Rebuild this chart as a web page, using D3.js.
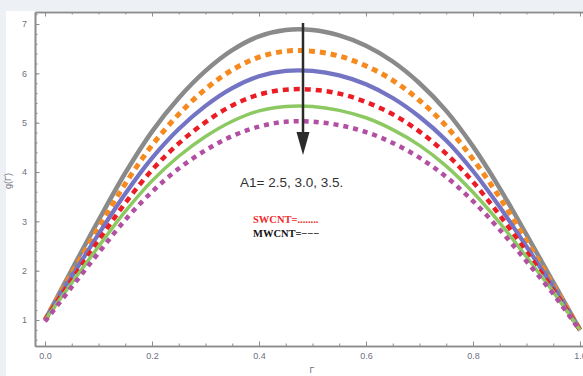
<!DOCTYPE html>
<html>
<head>
<meta charset="utf-8">
<script src="https://cdn.jsdelivr.net/npm/d3@7"></script>
<style>
  body { margin: 0; background: #edf0f4; }
  #canvas { width: 583px; height: 376px; }
</style>
</head>
<body>
<div id="canvas"></div>
<script>
const gamma = [0, 0.05, 0.1, 0.15, 0.2, 0.25, 0.3, 0.35, 0.4, 0.45, 0.5,
               0.55, 0.6, 0.65, 0.7, 0.75, 0.8, 0.85, 0.9, 0.95, 1.0];

// g(Γ) for each curve (top to bottom)
const grayVals   = [1.0, 2.02, 3.02, 3.98, 4.82, 5.50, 6.05, 6.47, 6.75, 6.88, 6.88,
                    6.77, 6.56, 6.24, 5.80, 5.24, 4.52, 3.67, 2.73, 1.77, 0.8];
const orangeVals = [1.0, 1.95, 2.87, 3.76, 4.54, 5.17, 5.68, 6.07, 6.33, 6.45, 6.45,
                    6.35, 6.15, 5.86, 5.45, 4.93, 4.26, 3.48, 2.60, 1.71, 0.8];
const blueVals   = [1.0, 1.88, 2.74, 3.56, 4.28, 4.87, 5.34, 5.70, 5.94, 6.05, 6.05,
                    5.96, 5.78, 5.50, 5.12, 4.64, 4.02, 3.29, 2.49, 1.66, 0.8];
const redVals    = [1.0, 1.81, 2.61, 3.37, 4.04, 4.58, 5.01, 5.35, 5.57, 5.67, 5.67,
                    5.59, 5.42, 5.17, 4.82, 4.37, 3.80, 3.12, 2.38, 1.61, 0.8];
const greenVals  = [1.0, 1.75, 2.49, 3.20, 3.82, 4.32, 4.72, 5.03, 5.24, 5.33, 5.33,
                    5.25, 5.10, 4.86, 4.54, 4.12, 3.59, 2.97, 2.28, 1.57, 0.8];
const purpleVals = [0.97, 1.67, 2.36, 3.03, 3.60, 4.07, 4.44, 4.73, 4.92, 5.02, 5.02,
                    4.95, 4.81, 4.59, 4.29, 3.90, 3.41, 2.83, 2.19, 1.53, 0.78];

const xTicks = [0, 0.2, 0.4, 0.6, 0.8, 1.0];
const yTicks = [1, 2, 3, 4, 5, 6, 7];

const width = 583;
const height = 376;

const series = [
  { vals: grayVals,   color: "#8a8a8a", w: 4.5, dash: null },
  { vals: orangeVals, color: "#f68a1f", w: 5,   dash: "6,5" },
  { vals: blueVals,   color: "#7474c4", w: 4.2, dash: null },
  { vals: redVals,    color: "#ec1c24", w: 4.5, dash: "6,5" },
  { vals: greenVals,  color: "#8dc963", w: 3.5, dash: null },
  { vals: purpleVals, color: "#b34fa3", w: 4.5, dash: "5,5" },
];

const xScale = d3.scaleLinear([-0.0187, 1.0187], [35, 590]);
const yScale = d3.scaleLinear([0.473, 7.244], [346, 12]);

const svg = d3
  .select("#canvas")
  .append("svg")
  .attr("width", width)
  .attr("height", height)
  .style("font-family", "'Liberation Sans', Arial, sans-serif");

// white panel
svg.append("rect")
  .attr("x", 6).attr("y", 11)
  .attr("width", width).attr("height", height)
  .attr("fill", "#fff");

const axisColor = "#8c8c8c";
const labelColor = "#6e7080";

function styleAxis(g) {
  g.select(".domain").attr("stroke", axisColor).attr("stroke-width", 1.6);
  g.selectAll(".tick line").attr("stroke", axisColor).attr("stroke-width", 1);
  g.selectAll(".tick text").attr("fill", labelColor).style("font-size", "9px");
}

const minorX = d3.range(0, 1.0001, 0.05);
const minorY = d3.range(0.6, 7.21, 0.2);

// bottom axis
svg.append("g").attr("transform", "translate(0,346)")
  .call(d3.axisBottom(xScale).tickValues(minorX).tickSize(-2.5).tickFormat("").tickSizeOuter(0))
  .call(styleAxis);
svg.append("g").attr("transform", "translate(0,346)")
  .call(d3.axisBottom(xScale).tickValues(xTicks).tickSize(-4.5).tickPadding(7)
    .tickFormat(d3.format(".1f")).tickSizeOuter(0))
  .call(styleAxis);

// top axis
svg.append("g").attr("transform", "translate(0,12)")
  .call(d3.axisTop(xScale).tickValues(minorX).tickSize(-2.5).tickFormat("").tickSizeOuter(0))
  .call(styleAxis);
svg.append("g").attr("transform", "translate(0,12)")
  .call(d3.axisTop(xScale).tickValues(xTicks).tickSize(-4.5).tickFormat("").tickSizeOuter(0))
  .call(styleAxis);

// left axis
svg.append("g").attr("transform", "translate(35,0)")
  .call(d3.axisLeft(yScale).tickValues(minorY).tickSize(-2.5).tickFormat("").tickSizeOuter(0))
  .call(styleAxis);
svg.append("g").attr("transform", "translate(35,0)")
  .call(d3.axisLeft(yScale).tickValues(yTicks).tickSize(-4.5).tickPadding(8)
    .tickFormat(d3.format("d")).tickSizeOuter(0))
  .call(styleAxis);

// axis titles
svg.append("text")
  .attr("x", 312).attr("y", 373)
  .attr("text-anchor", "middle")
  .attr("fill", labelColor)
  .style("font-size", "9px")
  .text("Γ");
svg.append("text")
  .attr("transform", "translate(11,181) rotate(-90)")
  .attr("text-anchor", "middle")
  .attr("fill", labelColor)
  .style("font-size", "9px")
  .text("g(Γ)");

// curves
const line = d3.line()
  .x((d, i) => xScale(gamma[i]))
  .y((d) => yScale(d))
  .curve(d3.curveCatmullRom);

for (const s of series) {
  svg.append("path")
    .attr("fill", "none")
    .attr("stroke", s.color)
    .attr("stroke-width", s.w)
    .attr("stroke-dasharray", s.dash)
    .attr("d", line(s.vals));
}

// arrow
svg.append("line")
  .attr("x1", 303).attr("y1", 23)
  .attr("x2", 303).attr("y2", 140)
  .attr("stroke", "#2b2b2b")
  .attr("stroke-width", 2.5);
svg.append("path")
  .attr("d", "M296.5,132 L309.5,132 L303,155 Z")
  .attr("fill", "#2b2b2b");

// annotations
svg.append("text")
  .attr("x", 240).attr("y", 187)
  .attr("fill", "#333")
  .style("font-size", "13.5px")
  .text("A1= 2.5, 3.0, 3.5.");
svg.append("text")
  .attr("x", 253).attr("y", 223)
  .attr("fill", "#ee2a2a")
  .style("font-family", "'Liberation Serif', 'Times New Roman', serif")
  .style("font-weight", "bold")
  .style("font-size", "10.5px")
  .text("SWCNT=........");
svg.append("text")
  .attr("x", 253).attr("y", 237)
  .attr("fill", "#111")
  .style("font-family", "'Liberation Serif', 'Times New Roman', serif")
  .style("font-weight", "bold")
  .style("font-size", "10.5px")
  .text("MWCNT=−−−");
</script>
</body>
</html>
